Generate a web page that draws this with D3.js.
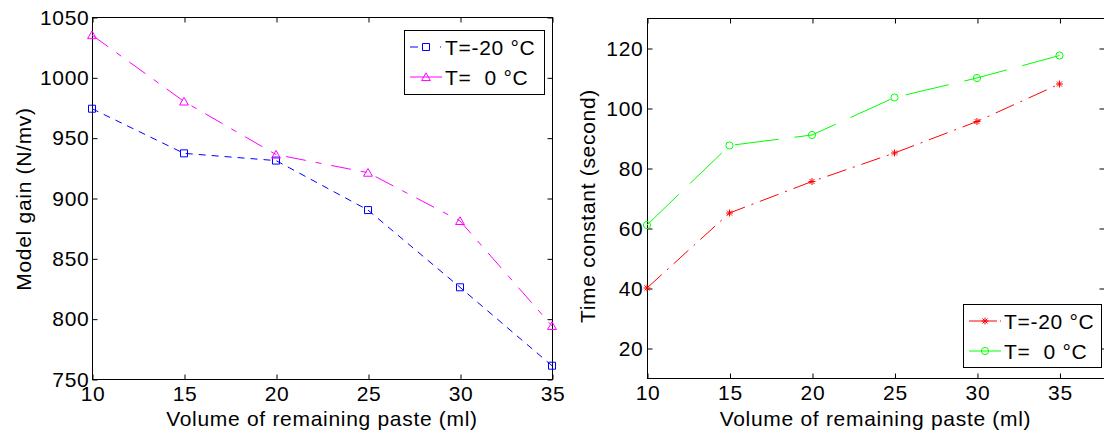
<!DOCTYPE html>
<html lang="en">
<head>
    <title>Model gain and time constant</title>
    <script src="https://d3js.org/d3.v7.min.js"></script>
    <style>
        body { margin: 0; background: #fff; }
        text { font-family: "Liberation Sans", Arial, sans-serif; font-size: 21px; letter-spacing: 0.7px; fill: #000; white-space: pre; }
    </style>
</head>
<body>

<script>
    // data
    const volume = [10, 15, 20, 25, 30, 35];
    const gainMinus20 = [974, 937, 931, 890, 826, 761];
    const gainZero = [1035, 980, 936, 921, 881, 794];
    const tauMinus20 = [40, 65, 75.5, 85, 95.5, 108];
    const tauZero = [61, 87.5, 91, 103.5, 110, 117.5];

    const volumeTicks = [10, 15, 20, 25, 30, 35];
    const gainTicks = [750, 800, 850, 900, 950, 1000, 1050];
    const tauTicks = [20, 40, 60, 80, 100, 120];
    const legendLabels = ["T=-20 \u00b0C", "T=  0 \u00b0C"];

    const svg = d3.select("body").append("svg")
            .attr("width", 1104).attr("height", 436);

    function star(g, r) {
        const d = r * 0.72;
        g.append("path")
            .attr("d", `M${-r},0H${r}M0,${-r}V${r}M${-d},${-d}L${d},${d}M${-d},${d}L${d},${-d}`);
    }

    function marker(g, type, color) {
        g.attr("fill", "none").attr("stroke", color).attr("stroke-width", 1);
        if (type === "square") g.append("path").attr("d", d3.symbol(d3.symbolSquare, 49)());
        if (type === "triangle") g.append("path").attr("d", d3.symbol(d3.symbolTriangle, 34)()).attr("transform", "translate(0,1)");
        if (type === "circle") g.append("circle").attr("r", 3.6);
        if (type === "star") star(g, 3.5);
    }

    function panel(opt) {
        const x = d3.scaleLinear().domain(opt.xDomain).range(opt.xRange);
        const y = d3.scaleLinear().domain(opt.yDomain).range(opt.yRange);
        const g = svg.append("g");

        g.append("rect")
            .attr("x", opt.xRange[0] + 0.5).attr("y", opt.yRange[1] + 0.5)
            .attr("width", opt.xRange[1] - opt.xRange[0]).attr("height", opt.yRange[0] - opt.yRange[1])
            .attr("fill", "none").attr("stroke", "#000").attr("stroke-width", 1);

        const bottom = g.append("g").attr("transform", `translate(0.5,${opt.yRange[0] + 0.5})`)
            .call(d3.axisBottom(x).tickValues(volumeTicks).tickFormat(d3.format("d")).tickSize(-5).tickPadding(7));
        const top = g.append("g").attr("transform", `translate(0.5,${opt.yRange[1] + 0.5})`)
            .call(d3.axisTop(x).tickValues(volumeTicks).tickSize(-5).tickFormat(""));
        const left = g.append("g").attr("transform", `translate(${opt.xRange[0] + 0.5},0.5)`)
            .call(d3.axisLeft(y).tickValues(opt.yTicks).tickFormat(d3.format("d")).tickSize(-5).tickPadding(opt.yPad));
        const right = g.append("g").attr("transform", `translate(${opt.xRange[1] + 0.5},0.5)`)
            .call(d3.axisRight(y).tickValues(opt.yTicks).tickSize(-5).tickFormat(""));
        [bottom, top, left, right].forEach(a => {
            a.select(".domain").remove();
            a.selectAll("line").attr("stroke", "#000");
            a.selectAll("text").attr("fill", "#000");
            a.attr("font-size", null).attr("font-family", null);
        });

        g.append("text")
            .attr("x", (opt.xRange[0] + opt.xRange[1]) / 2).attr("y", 426)
            .attr("text-anchor", "middle")
            .text("Volume of remaining paste (ml)");
        g.append("text")
            .attr("transform", `translate(${opt.yLabelX},${opt.yLabelY}) rotate(-90)`)
            .attr("text-anchor", "middle")
            .text(opt.yLabel);

        const line = d3.line().x(d => x(d[0])).y(d => y(d[1]));
        opt.series.forEach(s => {
            const pts = volume.map((v, i) => [v, s.values[i]]);
            g.append("path").datum(pts)
                .attr("d", line)
                .attr("fill", "none").attr("stroke", s.color).attr("stroke-width", 1)
                .attr("stroke-dasharray", s.dash);
            g.selectAll(null).data(pts).enter().append("g")
                .attr("transform", d => `translate(${x(d[0])},${y(d[1])})`)
                .each(function () { marker(d3.select(this), s.marker, s.color); });
        });

        const lg = opt.legend;
        g.append("rect")
            .attr("x", lg.x + 0.5).attr("y", lg.y + 0.5).attr("width", lg.w).attr("height", lg.h)
            .attr("fill", "#fff").attr("stroke", "#000").attr("stroke-width", 1);
        opt.series.forEach((s, i) => {
            const ry = lg.y + 17 + i * 30;
            g.append("line")
                .attr("x1", lg.x + 6).attr("x2", lg.x + 38).attr("y1", ry).attr("y2", ry)
                .attr("stroke", s.color).attr("stroke-width", 1)
                .attr("stroke-dasharray", s.legendDash);
            marker(g.append("g").attr("transform", `translate(${lg.x + 22},${ry})`), s.marker, s.color);
            g.append("text")
                .attr("x", lg.x + 41).attr("y", ry + 7.5)
                .text(legendLabels[i]);
        });
    }

    panel({
        xDomain: [10, 35], xRange: [92, 552],
        yDomain: [750, 1050], yRange: [379, 17],
        yTicks: gainTicks, yPad: 3,
        yLabel: "Model gain (N/mv)", yLabelX: 31, yLabelY: 199,
        series: [
            { values: gainMinus20, color: "#0000ff", marker: "square", dash: "7,6", legendDash: "8,22,1,2" },
            { values: gainZero, color: "#ff00ff", marker: "triangle", dash: "20,10,6,10", legendDash: null }
        ],
        legend: { x: 404, y: 30, w: 140, h: 64 }
    });

    panel({
        xDomain: [10, 37.7], xRange: [647, 1104],
        yDomain: [10, 130], yRange: [378, 18],
        yTicks: tauTicks, yPad: 4,
        yLabel: "Time constant (second)", yLabelX: 595, yLabelY: 206,
        series: [
            { values: tauMinus20, color: "#ff0000", marker: "star", dash: "20,7,2,7", legendDash: "28,3,1,2" },
            { values: tauZero, color: "#00ff00", marker: "circle", dash: "44,16", legendDash: null }
        ],
        legend: { x: 963, y: 304, w: 138, h: 63 }
    });
</script>

</body>
</html>
